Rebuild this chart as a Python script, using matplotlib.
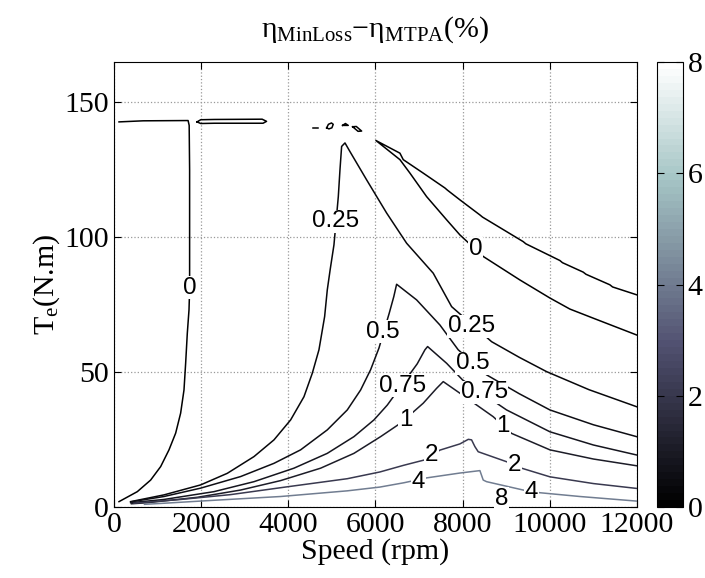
import matplotlib
matplotlib.use("Agg")
import numpy as np
import matplotlib.pyplot as plt
from matplotlib import cm, colors

plt.rcParams['font.family'] = ['Liberation Serif', 'DejaVu Serif']
plt.rcParams['mathtext.fontset'] = 'custom'
plt.rcParams['mathtext.rm'] = 'Liberation Serif'
plt.rcParams['mathtext.it'] = 'Liberation Serif:italic'

# contour lines: speed (rpm) / torque (N.m)
zero_left_speed = [115, 670, 1700, 1725, 1735, 1735, 1735, 1721, 1682, 1644, 1606, 1529, 1415,
                   1262, 1071, 841, 535, 115]
zero_left_torque = [142.8, 143.2, 143.3, 141.5, 125, 100, 80.5, 73.1, 64.4, 53.3, 43.4, 34.8, 27.4,
                    21.2, 15.0, 10.0, 5.7, 2.0]

zero_loop_speed = [1905, 1990, 2300, 3400, 3500, 3420, 2300, 1990, 1905]
zero_loop_torque = [142.8, 143.6, 143.7, 143.8, 143.0, 142.3, 142.3, 142.2, 142.8]

zero_blobs_speed = [[4570, 4680],
                    [4880, 4920, 4990, 5030, 5000, 4930, 4880],
                    [5246, 5310, 5375, 5246],
                    [5476, 5560, 5682, 5600, 5476]]
zero_blobs_torque = [[140.4, 140.4],
                     [140.6, 141.9, 142.4, 141.9, 140.6, 140.2, 140.6],
                     [141.5, 142.2, 141.5, 141.5],
                     [141.0, 141.1, 139.4, 139.3, 141.0]]

zero_right_speed = [11991, 11440, 11378, 10830, 10766, 10290, 10231, 9450, 9390, 8456, 8396, 7937,
                    7650, 7593, 7096, 6637, 6561, 6010,
                    6561, 6791, 7173, 7632, 7937, 8472, 9313, 10002, 10461, 11000, 11991]
zero_right_torque = [78.7, 81.6, 82.4, 86.3, 87.1, 90.6, 91.4, 97.6, 98.4, 107.5, 108.3, 113.9,
                     117.5, 118.3, 123.8, 128.8, 131.2, 135.9,
                     128.8, 123.8, 115.1, 106.5, 100.9, 92.9, 84.2, 77.5, 73.4, 70.0, 63.8]

q25_speed = [382, 1147, 1988, 2600, 3212, 3671, 4053, 4359, 4550, 4703, 4833, 4894, 4960, 5047, 5147,
             5185, 5223, 5300, 5414, 5797, 6256, 6715, 7325, 7747, 8665, 9300, 9926, 10900, 11991]
q25_torque = [2.0, 4.5, 8.2, 12.5, 18.7, 24.9, 32.3, 40.9, 49.6, 58.3, 70.6, 80.5, 88.0, 97.2, 115.1,
              125.0, 133.7, 135.0, 131.8, 121.3, 109.0, 97.8, 86.7, 74.3, 61.3, 55.5, 50.2, 43.5, 37.2]

q50_speed = [382, 1147, 1988, 2906, 3671, 4282, 4894, 5353, 5659, 5888, 6079, 6316, 6420, 6485,
             6944, 7478, 7898, 8550, 9300, 10002, 11000, 11991]
q50_torque = [1.9, 3.9, 7.0, 11.3, 16.2, 21.2, 28.6, 36.0, 43.4, 50.9, 58.9, 71.9, 78.0, 82.6,
              76.8, 67.5, 58.3, 49.0, 42.0, 36.0, 30.5, 26.1]

q75_speed = [382, 1147, 2294, 3212, 4129, 4894, 5506, 5965, 6271, 6958, 7135, 7196,
             7632, 8000, 9008, 10002, 11000, 11991]
q75_torque = [1.6, 2.8, 5.7, 9.4, 14.4, 19.9, 26.1, 32.3, 37.8, 53.1, 58.3, 59.5,
              53.3, 47.1, 36.0, 27.9, 23.0, 19.3]

one_speed = [400, 765, 1912, 2906, 3824, 4741, 5506, 6118, 6576, 7096, 7402, 7555,
             7937, 8701, 9123, 10002, 11000, 11991]
one_torque = [1.2, 1.6, 3.6, 6.3, 9.8, 14.4, 19.9, 26.1, 31.1, 38.5, 44.0, 46.5,
              42.2, 33.5, 27.3, 21.2, 17.8, 15.3]

two_speed = [459, 1529, 2676, 3976, 5353, 6102, 6653, 7135, 7479, 7937, 8130,
             8205, 8281, 8357, 9008, 9353, 10002, 11000, 11991]
two_torque = [1.4, 2.8, 4.6, 7.5, 10.5, 13.0, 15.5, 17.5, 21.1, 23.4, 25.1,
              24.9, 22.4, 20.5, 16.8, 14.4, 11.2, 8.7, 6.9]

four_speed = [700, 1147, 2294, 3824, 5353, 6102, 6653, 7173, 7937, 8396,
              8472, 8549, 9389, 9772, 10690, 11991]
four_torque = [1.0, 1.4, 2.5, 3.9, 6.0, 7.4, 9.0, 10.8, 12.6, 13.5,
               10.0, 9.4, 6.3, 5.3, 3.9, 2.2]

label_text = ['0', '0.25', '0', '0.25', '0.5', '0.5', '0.75', '0.75', '1', '1', '2', '2', '4', '4', '8']
label_speed = [1743, 5089, 8300, 8201, 6178, 8224, 6630, 8492, 6694, 8931, 7288, 9180, 6981, 9578, 8894]
label_torque = [81.3, 105.9, 95.7, 67.0, 65.0, 53.3, 45.0, 42.5, 32.3, 30.1, 19.3, 15.6, 9.4, 5.75, 3.0]

cmap = plt.get_cmap('bone', 64)
norm = colors.Normalize(0, 8)

lines = [(0, zero_left_speed, zero_left_torque),
         (0, zero_loop_speed, zero_loop_torque),
         (0, zero_right_speed, zero_right_torque),
         (0.25, q25_speed, q25_torque),
         (0.5, q50_speed, q50_torque),
         (0.75, q75_speed, q75_torque),
         (1, one_speed, one_torque),
         (2, two_speed, two_torque),
         (4, four_speed, four_torque)]
for s, t in zip(zero_blobs_speed, zero_blobs_torque):
    lines.append((0, s, t))

fig = plt.figure(figsize=(7.05, 5.78), dpi=100)
ax = fig.add_axes([0.1617, 0.1228, 0.7418, 0.7699])
cax = fig.add_axes([0.9319, 0.1228, 0.0369, 0.7699])

for lev, s, t in lines:
    ax.plot(s, t, color=cmap(norm(lev)), lw=1.1, zorder=3, solid_joinstyle='round')

for txt, s, t in zip(label_text, label_speed, label_torque):
    ax.text(s, t, txt, ha='center', va='center', fontsize=17.4, family='Liberation Sans',
            zorder=4, bbox=dict(facecolor='white', edgecolor='none', pad=0.5))

ax.set_xlim(0, 12000)
ax.set_ylim(0, 165)
ax.set_xticks(np.arange(0, 12001, 2000))
ax.set_yticks([0, 50, 100, 150])
ax.grid(True, linestyle=':', color='#999999', lw=0.9, zorder=0)
ax.tick_params(direction='in', top=True, right=True, labelsize=21.5, length=5)
ax.set_xlabel('Speed (rpm)', fontsize=21.5, labelpad=0)
ax.set_ylabel(r'$\mathrm{T_e}$(N.m)', fontsize=21.5, labelpad=2)
ax.set_title(r'$\mathrm{\eta_{MinLoss}{-}\eta_{MTPA}}$(%)', fontsize=21.5, pad=18)

sm = cm.ScalarMappable(norm=norm, cmap=cmap)
cb = fig.colorbar(sm, cax=cax, ticks=[0, 2, 4, 6, 8])
cax.tick_params(direction='in', left=True, right=True, labelsize=21.5, length=5)

fig.savefig('out.png', dpi=100)
